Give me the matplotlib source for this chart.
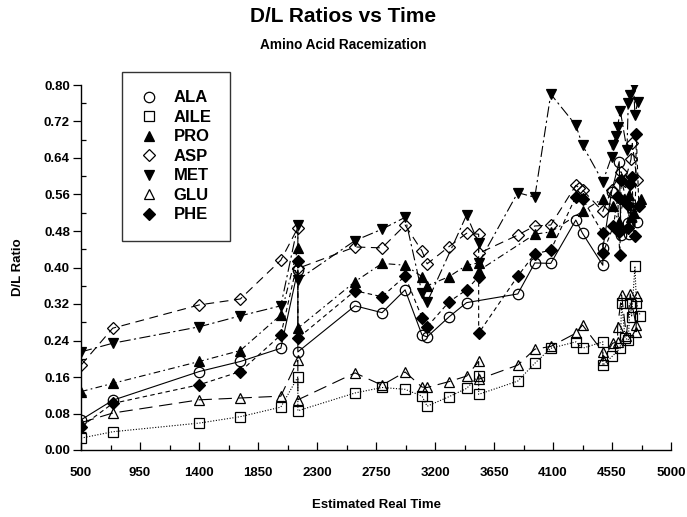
import matplotlib
matplotlib.use("Agg")
import matplotlib.pyplot as plt
from matplotlib.lines import Line2D
from matplotlib.ticker import FixedLocator, FormatStrFormatter, MultipleLocator

plt.rcParams["font.family"] = ["Liberation Sans", "DejaVu Sans"]
plt.rcParams["font.weight"] = "bold"

# ---- data ----
ala_x = [500, 742, 1402, 1715, 2024, 2154, 2154, 2590, 2796, 2972, 3101, 3140, 3308, 3441,
         3831, 3961, 4083, 4274, 4325, 4480, 4480, 4547, 4605, 4618, 4674, 4680, 4700, 4740]
ala_y = [0.066, 0.109, 0.172, 0.194, 0.223, 0.395, 0.215, 0.316, 0.301, 0.351, 0.252, 0.248, 0.292, 0.323,
         0.342, 0.410, 0.409, 0.504, 0.475, 0.405, 0.442, 0.566, 0.632, 0.471, 0.497, 0.473, 0.530, 0.500]

aile_x = [500, 742, 1402, 1715, 2024, 2154, 2154, 2590, 2796, 2972, 3101, 3140, 3308, 3441,
          3533, 3533, 3831, 3961, 4083, 4274, 4325, 4480, 4480, 4550, 4613, 4623, 4650, 4674,
          4689, 4700, 4725, 4736, 4765]
aile_y = [0.026, 0.040, 0.059, 0.073, 0.094, 0.160, 0.086, 0.125, 0.137, 0.133, 0.118, 0.096, 0.117, 0.135,
          0.162, 0.122, 0.151, 0.190, 0.223, 0.237, 0.223, 0.237, 0.186, 0.205, 0.223, 0.323, 0.245, 0.241,
          0.323, 0.292, 0.403, 0.323, 0.294]

pro_x = [500, 742, 1402, 1715, 2024, 2154, 2154, 2590, 2796, 2972, 3101, 3140, 3308, 3441,
         3533, 3533, 3961, 4083, 4325, 4480, 4560, 4600, 4640, 4680, 4695, 4720, 4771]
pro_y = [0.128, 0.146, 0.194, 0.218, 0.296, 0.442, 0.267, 0.369, 0.409, 0.405, 0.380, 0.360, 0.380, 0.405,
         0.410, 0.393, 0.473, 0.478, 0.523, 0.551, 0.534, 0.500, 0.550, 0.559, 0.511, 0.520, 0.551]

asp_x = [500, 742, 1402, 1715, 2024, 2154, 2154, 2590, 2796, 2972, 3101, 3140, 3308, 3441,
         3533, 3533, 3831, 3961, 4083, 4274, 4300, 4325, 4480, 4547, 4618, 4650, 4695, 4705, 4740]
asp_y = [0.186, 0.267, 0.318, 0.331, 0.416, 0.487, 0.398, 0.445, 0.443, 0.493, 0.436, 0.408, 0.446, 0.475,
         0.473, 0.431, 0.471, 0.491, 0.493, 0.580, 0.575, 0.570, 0.523, 0.570, 0.610, 0.590, 0.637, 0.672, 0.592]

met_x = [500, 742, 1402, 1715, 2024, 2154, 2154, 2590, 2796, 2972, 3101, 3140, 3441,
         3533, 3533, 3831, 3961, 4083, 4274, 4325, 4480, 4547, 4554, 4580, 4593, 4613, 4664,
         4674, 4689, 4715, 4725, 4746]
met_y = [0.215, 0.234, 0.270, 0.294, 0.316, 0.493, 0.373, 0.459, 0.484, 0.510, 0.344, 0.324, 0.515,
         0.453, 0.410, 0.564, 0.554, 0.780, 0.712, 0.668, 0.588, 0.643, 0.668, 0.688, 0.709, 0.744, 0.658,
         0.760, 0.778, 0.798, 0.734, 0.763]

glu_x = [500, 742, 1402, 1715, 2024, 2154, 2154, 2590, 2796, 2972, 3101, 3140, 3308, 3441,
         3533, 3533, 3831, 3961, 4083, 4274, 4325, 4480, 4480, 4554, 4593, 4593, 4623, 4660,
         4689, 4733, 4733, 4740]
glu_y = [0.060, 0.081, 0.110, 0.114, 0.118, 0.197, 0.110, 0.169, 0.142, 0.171, 0.138, 0.137, 0.150, 0.162,
         0.194, 0.155, 0.186, 0.221, 0.227, 0.256, 0.274, 0.215, 0.197, 0.234, 0.237, 0.270, 0.340, 0.250,
         0.342, 0.274, 0.259, 0.338]

phe_x = [500, 742, 1402, 1715, 2024, 2154, 2154, 2590, 2796, 2972, 3101, 3140, 3308, 3441,
         3533, 3533, 3831, 3961, 4083, 4274, 4325, 4480, 4480, 4560, 4595, 4600, 4610, 4620,
         4670, 4674, 4690, 4700, 4725, 4735, 4755]
phe_y = [0.051, 0.102, 0.143, 0.172, 0.252, 0.415, 0.245, 0.349, 0.336, 0.381, 0.290, 0.270, 0.325, 0.351,
         0.380, 0.256, 0.381, 0.430, 0.438, 0.555, 0.551, 0.475, 0.431, 0.490, 0.555, 0.478, 0.427, 0.592,
         0.537, 0.486, 0.584, 0.599, 0.468, 0.693, 0.534]

x_ticks = [500, 950, 1400, 1850, 2300, 2750, 3200, 3650, 4100, 4550, 5000]

series = [
    ("ALA", ala_x, ala_y, "o", "none", "-"),
    ("AILE", aile_x, aile_y, "s", "none", (0, (1, 1.5))),
    ("PRO", pro_x, pro_y, "^", "black", (0, (6, 3, 1.5, 3))),
    ("ASP", asp_x, asp_y, "D", "none", (0, (8, 5))),
    ("MET", met_x, met_y, "v", "black", (0, (10, 3, 2, 3))),
    ("GLU", glu_x, glu_y, "^", "none", (0, (12, 6))),
    ("PHE", phe_x, phe_y, "D", "black", (0, (4, 3))),
]

fig = plt.figure(figsize=(6.87, 5.17), dpi=100)
ax = fig.add_axes([81 / 687, 1 - 450 / 517, (671 - 81) / 687, (450 - 85) / 517])

handles = []
for name, xs, ys, mk, fc, ls in series:
    ms = 6.5 if mk == "D" else 7.5
    ax.plot(xs, ys, color="black", lw=0.8, linestyle=ls,
            marker=mk, markersize=ms, markerfacecolor=fc, markeredgecolor="black", markeredgewidth=0.9)
    handles.append(Line2D([], [], linestyle="none", marker=mk, markersize=ms,
                          markerfacecolor=fc, markeredgecolor="black", markeredgewidth=0.9, label=name))

ax.set_xlim(500, 5000)
ax.set_ylim(0, 0.8)
ax.xaxis.set_major_locator(FixedLocator(x_ticks))
ax.xaxis.set_minor_locator(FixedLocator([t + 225 for t in x_ticks[:-1]]))
ax.yaxis.set_major_locator(MultipleLocator(0.08))
ax.yaxis.set_minor_locator(MultipleLocator(0.04))
ax.yaxis.set_major_formatter(FormatStrFormatter("%.2f"))

for s in ["top", "right"]:
    ax.spines[s].set_visible(False)
for s in ["left", "bottom"]:
    ax.spines[s].set_linewidth(1.0)

ax.tick_params(axis="x", which="major", direction="in", length=6, width=0.9, labelsize=9.5, pad=12)
ax.tick_params(axis="x", which="minor", direction="in", length=3.5, width=0.9)
ax.tick_params(axis="y", which="major", direction="out", length=6, width=0.9, labelsize=9.5, pad=2)
ax.tick_params(axis="y", which="minor", direction="in", length=3.5, width=0.9)
for lab in ax.get_xticklabels() + ax.get_yticklabels():
    lab.set_fontweight("bold")

ax.set_xlabel("Estimated Real Time", fontsize=9.5, fontweight="bold", labelpad=15)
ax.set_ylabel("D/L Ratio", fontsize=9.5, fontweight="bold", labelpad=14)

fig.text(0.5, 1 - 16 / 517, "D/L Ratios vs Time", ha="center", va="center", fontsize=15, fontweight="bold")
fig.text(0.5, 1 - 45 / 517, "Amino Acid Racemization", ha="center", va="center", fontsize=9.8, fontweight="bold")

leg = ax.legend(handles=handles, loc="upper left",
                bbox_to_anchor=(122 / 687, 1 - 72 / 517), bbox_transform=fig.transFigure,
                frameon=True, fancybox=False, edgecolor="black", fontsize=12,
                handlelength=1.0, handletextpad=1.0, labelspacing=0.27, borderpad=1.1,
                borderaxespad=0)
leg.get_frame().set_linewidth(1.0)
for t in leg.get_texts():
    t.set_fontweight("bold")

fig.savefig("out.png", dpi=100)
